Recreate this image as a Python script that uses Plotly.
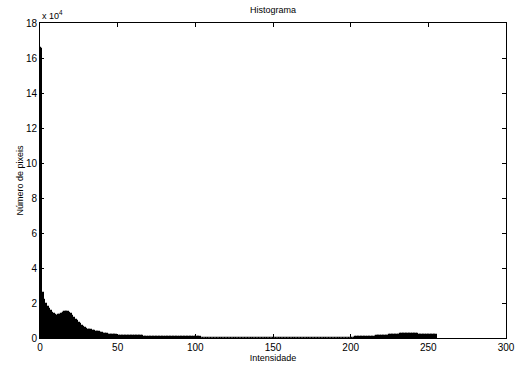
import plotly.graph_objects as go

intensity = list(range(256))
counts = [
    166000, 165000, 26000, 22000, 19500, 18000, 16500, 15500, 14500, 13500,
    13000, 12800, 13000, 13300, 13800, 14200, 14600, 14800, 14700, 14300,
    13500, 12500, 11500, 10500, 9500, 8600, 7800, 7000, 6300, 5700,
    5200, 4800, 4500, 4300, 4100, 3900, 3700, 3500, 3300, 3100,
    2800, 2500, 2300, 2100, 1900, 1800, 1700, 1600, 1500, 1450,
    1400, 1350, 1300, 1250, 1200, 1150, 1100, 1080, 1050, 1020,
    1000, 980, 960, 940, 920, 900, 880, 860, 840, 820,
    800, 790, 780, 770, 760, 740, 720, 700, 680, 660,
    640, 620, 600, 580, 560, 540, 520, 500, 480, 460,
    450, 440, 430, 420, 410, 400, 390, 380, 370, 360,
    340, 320, 300, 290, 280, 270, 260, 250, 240, 230,
    220, 210, 200, 190, 180, 170, 160, 150, 140, 130,
    120, 115, 110, 105, 100, 95, 90, 88, 85, 82,
    80, 78, 76, 74, 72, 70, 68, 66, 64, 62,
    60, 60, 58, 58, 56, 56, 55, 55, 54, 54,
    53, 53, 52, 52, 52, 51, 51, 50, 50, 50,
    50, 50, 50, 50, 51, 51, 52, 52, 53, 53,
    54, 55, 56, 57, 58, 60, 62, 64, 66, 68,
    70, 72, 75, 78, 80, 85, 90, 95, 100, 105,
    110, 120, 130, 140, 150, 160, 170, 185, 200, 215,
    230, 250, 270, 290, 310, 340, 370, 400, 440, 480,
    520, 560, 600, 650, 700, 760, 820, 880, 940, 1000,
    1080, 1160, 1240, 1320, 1400, 1480, 1560, 1640, 1720, 1800,
    1880, 1950, 2020, 2080, 2130, 2170, 2200, 2220, 2230, 2220,
    2200, 2160, 2100, 2040, 1980, 1920, 1860, 1800, 1760, 1720,
    1700, 1680, 1660, 1640, 1620, 1600,
]

x_ticks = [0, 50, 100, 150, 200, 250, 300]
y_tick_vals = [0, 20000, 40000, 60000, 80000, 100000, 120000, 140000, 160000, 180000]
y_tick_text = ["0", "2", "4", "6", "8", "10", "12", "14", "16", "18"]

font_family = "Liberation Sans, Arial, Helvetica, sans-serif"

fig = go.Figure(
    go.Bar(
        x=intensity,
        y=counts,
        width=1,
        marker=dict(color="black", line=dict(color="black", width=1.2)),
        hoverinfo="skip",
    )
)

fig.update_layout(
    width=516,
    height=365,
    margin=dict(l=40, r=10, t=23, b=27, autoexpand=False),
    paper_bgcolor="white",
    plot_bgcolor="white",
    bargap=0,
    showlegend=False,
    font=dict(family=font_family, size=10, color="black"),
    title=dict(
        text="Histograma",
        x=(40 + 233) / 516,
        xanchor="center",
        y=1 - 10 / 365,
        yanchor="middle",
        font=dict(size=9, color="black"),
    ),
    annotations=[
        dict(
            text="x 10<sup>4</sup>",
            xref="paper",
            yref="paper",
            x=0.0,
            y=1.0,
            xanchor="left",
            yanchor="bottom",
            showarrow=False,
            font=dict(size=9, color="black"),
        )
    ],
)

fig.update_xaxes(
    range=[0, 300],
    tickvals=x_ticks,
    ticks="inside",
    ticklen=4,
    tickcolor="black",
    showline=True,
    linecolor="black",
    linewidth=1,
    mirror="ticks",
    showgrid=False,
    zeroline=False,
    automargin=False,
    title=dict(text="Intensidade", font=dict(size=9), standoff=0),
    tickfont=dict(size=10),
)

fig.update_yaxes(
    range=[0, 180000],
    tickvals=y_tick_vals,
    ticktext=y_tick_text,
    ticks="inside",
    ticklen=4,
    tickcolor="black",
    showline=True,
    linecolor="black",
    linewidth=1,
    mirror="ticks",
    showgrid=False,
    zeroline=False,
    automargin=False,
    title=dict(text="Número de pixeis", font=dict(size=9), standoff=0),
    tickfont=dict(size=10),
)

fig.write_html(
    "out.html",
    config={"displayModeBar": False},
    post_script="document.body.style.margin='0';",
)
